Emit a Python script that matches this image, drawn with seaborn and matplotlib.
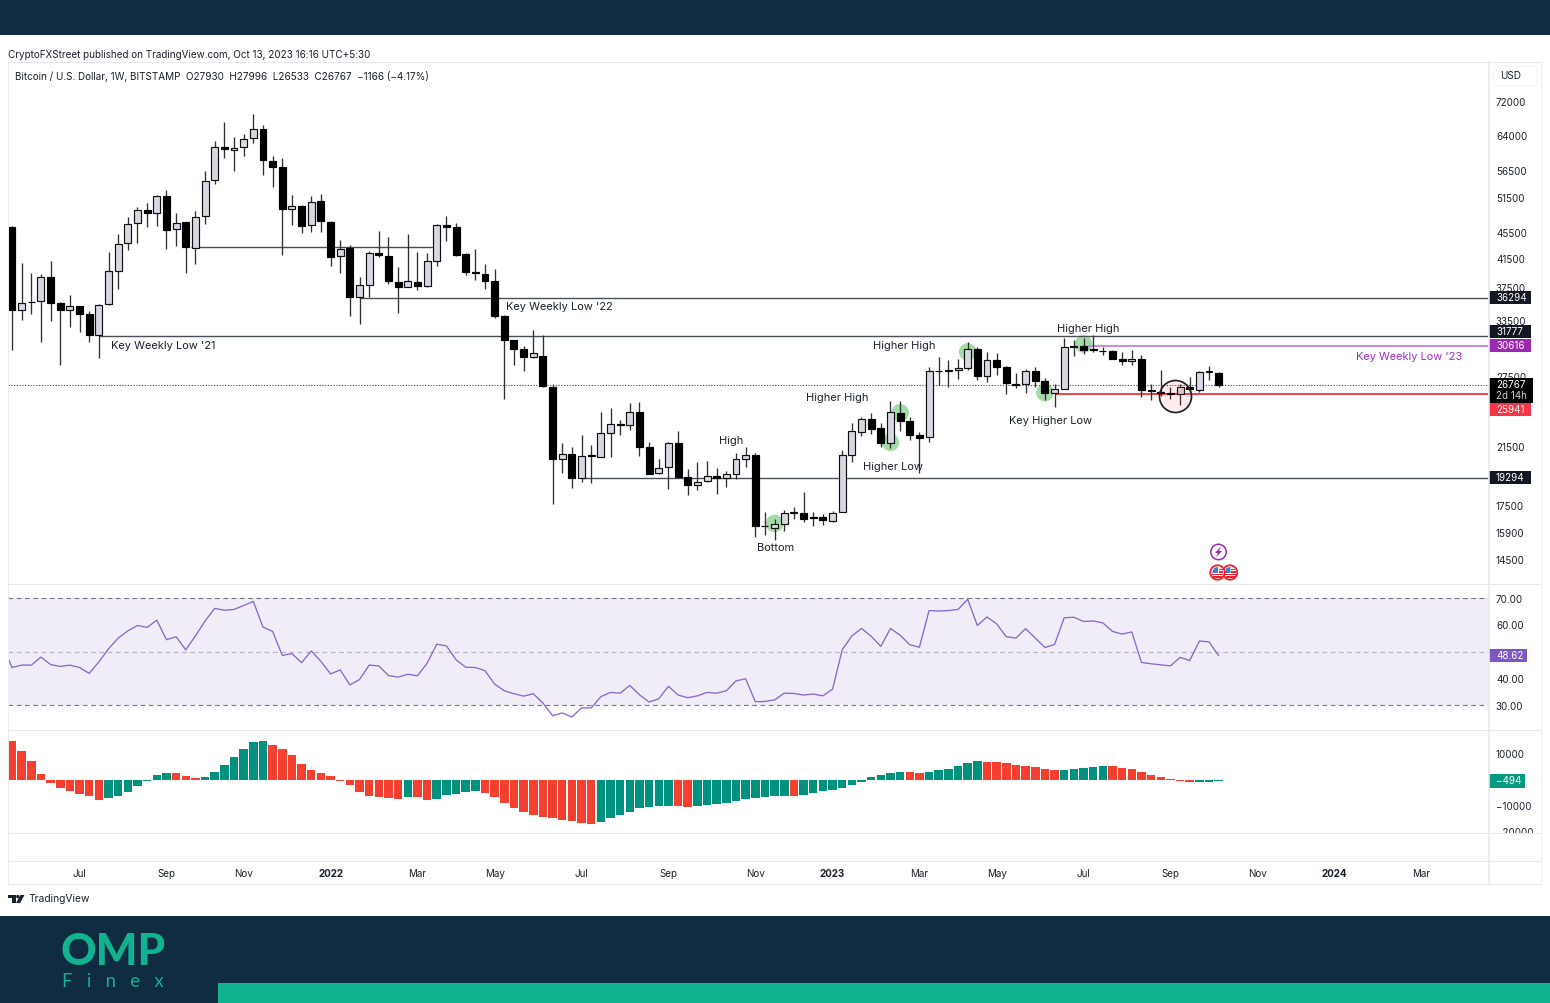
import numpy as np
import pandas as pd
import matplotlib
matplotlib.use('Agg')
import matplotlib.pyplot as plt
import seaborn as sns
from matplotlib.lines import Line2D
from matplotlib.patches import Rectangle, Circle, Polygon, FancyBboxPatch

# weekly BTCUSD candles
opens = [46544,34772,35800,35885,39074,35592,34772,35260,34290,31860,35510,39900,43909,47090,49285,48825,51815,46165,47310,43250,
         48315,54740,61510,60870,61440,63400,65430,58640,57290,49515,50035,46760,50860,47310,41950,43150,36350,37950,42400,42050,
         38400,37731,38400,37820,41320,46870,46435,42250,39720,39490,38530,34090,31307,30300,29500,29600,26555,20605,21000,19325,
         20900,20800,22625,23300,23245,24330,21520,19620,20060,21820,19392,18835,19100,19440,19300,19600,20650,20920,16350,16235,
         16465,17100,17110,16835,16835,16620,17150,20945,22705,23735,22975,21820,24270,23570,22440,22260,28120,28060,28215,28380,
         30340,27630,29225,28517,26840,26840,28090,27155,26000,26370,30590,30655,30300,30160,30125,29290,29060,29290,26278,26125,
         25973,25940,26530,26278,27970,27930]
highs = [46660,40939,39532,39440,41320,35760,36645,35305,34690,35470,42600,45310,48205,49805,50505,51935,52916,48770,47310,49225,
         56620,62890,67050,63776,64300,69000,66360,59600,59260,51935,50210,51815,52180,47535,44424,43600,38985,42700,45900,44895,
         40370,45380,42650,42500,46980,48315,47200,42400,43000,40795,40090,34215,31340,30655,32385,31850,26840,21850,21490,22415,
         21670,24300,24700,23654,25078,25225,21925,20610,21925,22790,19900,20390,20510,19965,19780,21045,21490,21095,17150,16755,
         17253,17420,18400,17150,17015,17190,21293,23380,23932,24270,23435,25315,25285,23932,22705,28517,29440,29190,29250,31050,
         30515,30000,29880,28620,27860,28250,28450,27380,26840,31490,31300,31490,31860,30515,30230,29985,30230,29700,26840,28186,
         26530,26840,27536,28055,28585,27996]
lows = [30170,33577,34290,31125,33460,28680,32801,32230,31125,29360,35385,37380,42897,44010,46435,46650,43000,43500,39625,40845,
        46980,53980,59120,56560,59670,62450,55700,53415,42100,46870,45580,45630,45740,40610,39625,34050,33070,36350,41820,38090,
        34450,37640,37291,37731,40610,44320,42000,39300,38620,37465,33770,25460,28680,28055,29360,26590,17620,19665,18660,19055,
        18944,20750,20750,22440,22840,20850,19550,19570,18595,19325,18185,18507,19055,18230,18680,19210,20084,15680,15800,15530,
        16050,16755,16560,16310,16370,16545,17130,20390,22365,22520,21490,21420,22785,22053,19620,21925,26745,26590,27310,28186,
        27216,27060,27700,25910,26430,25973,26590,25373,24787,26340,29600,29810,30050,29700,29280,28680,28680,25671,25373,25730,
        25430,24930,26125,26125,27216,26533]
closes = [34772,35675,35715,38985,35675,34730,35305,34290,31860,35430,39855,43860,46980,49285,48880,51815,46060,47200,43300,48205,
          54680,61510,61010,61370,63185,65430,58710,57355,49570,50095,46710,50740,47420,41905,43100,36350,37950,42400,42150,38445,
          37731,38445,37860,41275,46870,46435,42150,39760,39530,38530,34050,31307,30340,29500,29880,26620,20605,21000,19325,20875,
          20830,22600,23325,23210,24330,21543,19575,20015,21820,19392,18835,19055,19415,19325,19600,20605,20900,16330,16310,16425,
          17110,17150,16755,16775,16640,17110,20900,22735,23765,22950,21820,24300,23600,22470,22210,28055,28040,28215,28350,30300,
          27630,29190,28517,26965,26710,28090,27155,25973,26340,30515,30660,30230,30230,30090,29290,29090,29290,26278,26190,26035,
          25880,26530,26340,28020,28060,26767]

# RSI, the first value is the week before the first candle (off the left edge)
rsi = [52.7,44.2,45.1,45.1,48.1,45.3,44.6,45.1,44.2,42.0,46.3,51.2,55.2,57.9,59.9,59.2,61.9,54.6,55.7,50.8,56.0,
       61.6,66.3,65.6,65.9,67.4,68.9,59.3,57.7,48.7,49.4,46.0,50.4,46.5,41.8,43.3,37.7,39.7,45.1,44.8,41.2,
       40.6,41.7,41.1,45.8,52.9,52.3,47.1,44.3,44.2,43.0,38.0,35.5,34.4,33.5,34.4,30.9,26.2,27.2,25.7,29.1,
       29.1,33.3,34.9,34.6,37.5,34.0,31.3,32.5,37.2,33.9,32.9,33.6,34.9,34.6,35.5,39.2,40.0,31.4,31.5,32.1,
       34.6,34.5,33.9,34.3,33.6,36.1,50.8,56.0,58.8,55.9,52.1,58.8,56.3,52.7,51.8,65.5,65.3,65.5,65.9,69.7,
       59.9,63.1,60.5,55.7,55.2,58.7,55.2,51.7,52.8,62.8,63.0,61.4,61.6,60.9,57.7,56.7,57.5,46.1,45.6,45.2,
       44.8,48.0,46.8,54.1,53.8,48.62]

macd_hist = [14870,11150,7180,2180,-1280,-3080,-4100,-5380,-6150,-7690,-6800,-6150,-4620,-2440,-300,1800,2820,2560,1670,640,
             1150,2950,5770,8850,11920,14490,14870,13590,11800,9490,6150,3850,2560,1540,-300,-1920,-4490,-6280,-6670,-6920,
             -7310,-6670,-6670,-7690,-7440,-5900,-5260,-4740,-4360,-5000,-6410,-8970,-10770,-12440,-13590,-14230,-14620,-15260,-15770,-16540,
             -17050,-16150,-14740,-13330,-12180,-10770,-10260,-10130,-10130,-10130,-10510,-10130,-9490,-9100,-8970,-8200,-7180,-6920,-6540,-6280,
             -6150,-6150,-5770,-5130,-4360,-3850,-3080,-2050,-770,1030,2050,2690,3080,3080,2560,3080,3720,4360,5260,6670,
             7310,7050,7050,6670,5900,5380,4870,4360,3850,3850,4360,4490,4870,5510,5260,4740,4100,3080,1920,1150,
             380,-510,-900,-900,-640,-494]
macd_side = list('rrrrrrrrrr' 'ggggggg' 'rrr' 'ggggggg' 'rrrrrrrrrrrrrr' 'g' 'rr' 'ggggg' 'rrrrrrrrrrrr' 'gggggggg' 'rr'
                 'gggggggggg' 'r' 'ggggggggggg' 'rr' 'gggggg' 'rrrrrrrr' 'ggggg' 'rrrrrrrrr' 'ggg')

price_ticks = [72000,64000,56500,51500,45500,41500,37500,33500,27500,21500,17500,15900,14500]
rsi_ticks = [70,60,40,30]
macd_ticks = [10000,-10000,-20000]
macd_tick_labels = ['10000','\u221210000','\u221220000']
time_ticks = [7,16,24,33,42,50,59,68,77,85,94,102,111,120,129,137,146]
time_labels = ['Jul','Sep','Nov','2022','Mar','May','Jul','Sep','Nov','2023','Mar','May','Jul','Sep','Nov','2024','Mar']

# key levels: price, first week, last week, colour, width
levels = [(43300,18.5,43.6,'#4a4e57',1.0),(36294,36,152.9,'#4a4e57',1.0),(31777,9,152.9,'#4a4e57',1.0),(19294,59,152.9,'#4a4e57',1.0),
          (30616,111.5,152.9,'#b26fd0',1.1),(25941,108,152.9,'#f0202f',1.2)]
swing_weeks = [79,91,92,99,107,111]
swing_prices = [16465,21870,24270,30020,26030,30870]

W, H = 1550, 1003
NAVY = '#0f2c41'
TEAL = '#10b28f'
TXT = '#1c202b'
GRID = '#eceef2'
sns.set_theme(style='white')
plt.rcParams['font.family'] = ['Inter', 'DejaVu Sans']
plt.rcParams['text.color'] = TXT

# the small extra keeps matplotlib from rounding the height down to 1002
fig = plt.figure(figsize=(W / 100, (H + 0.01) / 100), dpi=100, facecolor='white')

def fx(x):
    return x / W

def fy(y):
    return 1 - y / H

def pane(x0, y0, x1, y1):
    a = fig.add_axes([fx(x0), fy(y1), (x1 - x0) / W, (y1 - y0) / H])
    a.set_facecolor('none')
    for s in a.spines.values():
        s.set_visible(False)
    a.set_xlim(-0.414, 152.9)
    a.set_xticks([])
    return a

def frect(x0, y0, x1, y1, color, **kw):
    fig.patches.append(Rectangle((fx(x0), fy(y1)), (x1 - x0) / W, (y1 - y0) / H, transform=fig.transFigure,
                                 facecolor=color, edgecolor='none', **kw))

def fline(x0, y0, x1, y1, color=GRID, lw=1.0):
    fig.add_artist(Line2D([fx(x0), fx(x1)], [fy(y0), fy(y1)], color=color, lw=lw * 0.72))

def ftext(x, y, s, size=7.2, color=TXT, ha='left', **kw):
    fig.text(fx(x), fy(y), s, fontsize=size, color=color, ha=ha, va='center', **kw)

def tag(y0, y1, s, color, x1=1531):
    frect(1489, y0, x1, y1, color)
    ftext(1496, (y0 + y1) / 2, s, size=7.1, color='white')

# page bands
frect(0, 0, W, 35, NAVY)
frect(0, 916, W, H, NAVY)
frect(218, 983, W, H, TEAL)

ftext(8, 54.5, 'CryptoFXStreet published on TradingView.com, Oct 13, 2023 16:16 UTC+5:30', size=7.13)
ftext(15, 76.5, 'Bitcoin / U.S. Dollar, 1W, BITSTAMP  O27930  H27996  L26533  C26767  \u22121166 (\u22124.17%)', size=7.13)

# pane frame
for y in (62, 584, 730, 833, 861, 884):
    fline(8, y, 1541, y, color='#e8e9ee')
fline(8, 62, 8, 884)
fline(1541, 62, 1541, 884)
fline(1489, 62, 1489, 884, color='#e8e9ee', lw=1.6)

# price pane
ax = pane(8, 65, 1488, 583)
ax.set_yscale('log')
ax.set_ylim(13370, 81950)
weeks = np.arange(len(opens))
o, h, l, c = map(np.array, (opens, highs, lows, closes))
sns.scatterplot(x=swing_weeks, y=swing_prices, s=160, color='#a6dba9', edgecolor='none', ax=ax, zorder=1, legend=False)
ax.scatter([120.5], [25730], s=530, facecolor='#f2364518', edgecolor='#222222', linewidth=1.25, zorder=4)
ax.vlines(weeks, l, h, color='#303030', lw=0.95, zorder=2)
up = c >= o
ax.bar(weeks[up], (c - o)[up], bottom=o[up], width=0.72, color='#d6d9e0', edgecolor='#111111', linewidth=0.85, zorder=3)
ax.bar(weeks[~up], (o - c)[~up], bottom=c[~up], width=0.72, color='black', edgecolor='black', linewidth=0.85, zorder=3)
for price, start, end, col, width in levels:
    ax.hlines(price, start, end, color=col, lw=width, zorder=1.5)
ax.axhline(26767, color='#444444', lw=0.8, ls=(0, (1, 1.5)), zorder=1)
ax.yaxis.tick_right()
ax.yaxis.set_major_locator(matplotlib.ticker.FixedLocator(price_ticks))
ax.yaxis.set_major_formatter(matplotlib.ticker.FixedFormatter([str(v) for v in price_ticks]))
ax.yaxis.set_minor_locator(matplotlib.ticker.NullLocator())
ax.tick_params(axis='y', length=0, pad=5.7, labelsize=7.1, labelcolor=TXT)

# annotations on the chart
for x, y, s in [(111, 346, "Key Weekly Low '21"), (506, 307, "Key Weekly Low '22"), (1057, 329, 'Higher High'),
                (873, 346, 'Higher High'), (806, 398, 'Higher High'), (1009, 420.5, 'Key Higher Low'),
                (719, 441, 'High'), (863, 466.5, 'Higher Low'), (757, 548, 'Bottom')]:
    ftext(x, y, s, size=7.95, zorder=6)
ftext(1356, 356.5, "Key Weekly Low '23", size=7.9, color='#a32cc4', zorder=6)

# price scale tags
ftext(1500, 76, 'USD', size=7.2)
tag(291, 304, '36294', '#131722')
tag(325, 338.5, '31777', '#131722')
tag(339, 352.5, '30616', '#9c27b0')
frect(1489, 378, 1533, 403, 'black')
ftext(1496, 384.5, '26767', size=7.1, color='white')
ftext(1496, 396, '2d 14h', size=7.1, color='#d0d0d0')
tag(403.5, 416.5, '25941', '#f23645')
tag(471.5, 484.5, '19294', '#131722')

# pixel overlay for icons, logo and the clipped bottom tick
ax_icons = fig.add_axes([0, 0, 1, 1], facecolor='none')
ax_icons.set_zorder(10)
ax_icons.set_xlim(0, W)
ax_icons.set_ylim(H, 0)
ax_icons.axis('off')
ax_icons.add_patch(FancyBboxPatch((1494, 67), 42, 18, boxstyle='round,pad=1,rounding_size=3', facecolor='none', edgecolor='#f0f1f4', lw=0.7))
ax_icons.add_patch(Circle((1218.5, 552), 7.7, facecolor='white', edgecolor='#9c27b0', lw=1.1))
ax_icons.add_patch(Polygon([(1221, 546.5), (1215, 553), (1218, 553), (1216, 557.5), (1222, 551), (1219, 551)],
                           facecolor='#9c27b0', edgecolor='none'))
for cx in (1230, 1217.5):
    ax_icons.add_patch(Circle((cx, 572.5), 7.2, facecolor='white', edgecolor='#f0202f', lw=1.3, zorder=3))
    for sx, sy, sw in ((cx + 1, 569, 4), (cx + 1, 571.5, 4.8), (cx - 5.5, 574, 11), (cx - 4.5, 576.5, 9)):
        ax_icons.add_patch(Rectangle((sx, sy), sw, 1.4, facecolor='#f0202f', edgecolor='none', zorder=3))
    ax_icons.add_patch(Polygon([(cx - 5.5, 573), (cx - 3.5, 568), (cx + 0.5, 566.8), (cx + 0.5, 573)], facecolor='#4a7cc9', edgecolor='none', zorder=3))
# TradingView mark
ax_icons.add_patch(Polygon([(8, 895), (15.5, 895), (15.5, 903), (12, 903), (12, 898), (8, 898)], facecolor=TXT, edgecolor='none'))
ax_icons.add_patch(Circle((17.8, 896.6), 1.7, facecolor=TXT, edgecolor='none'))
ax_icons.add_patch(Polygon([(20.5, 895), (24.5, 895), (20, 903), (16, 903)], facecolor=TXT, edgecolor='none'))
ax_icons.add_patch(Rectangle((1490, 833.6), 50, 9, facecolor='white', edgecolor='none'))

# RSI pane
ax_rsi = pane(8, 584, 1488, 730)
ax_rsi.set_ylim(20.84, 75.42)
ax_rsi.axhspan(30, 70, color='#7e57c2', alpha=0.1, lw=0, zorder=0)
for lev, shade in ((70, '#787b86'), (50, '#b5b3c0'), (30, '#787b86')):
    ax_rsi.axhline(lev, color=shade, lw=0.85, ls=(0, (4, 3)), zorder=1)
rsi_df = pd.DataFrame({'week': np.arange(-1, len(rsi) - 1), 'rsi': rsi})
sns.lineplot(data=rsi_df, x='week', y='rsi', color='#8a67cc', lw=0.95, ax=ax_rsi, zorder=2)
ax_rsi.set_xlabel('')
ax_rsi.set_ylabel('')
ax_rsi.set_xticks([])
ax_rsi.yaxis.tick_right()
ax_rsi.set_yticks(rsi_ticks, [f'{v:.2f}' for v in rsi_ticks])
ax_rsi.tick_params(axis='y', length=0, pad=5.7, labelsize=7.1, labelcolor=TXT)
tag(649.5, 662.5, '48.62', '#7e57c2', x1=1527)

# MACD histogram pane
ax_macd = pane(8, 731, 1488, 833)
macd_df = pd.DataFrame({'week': weeks, 'hist': macd_hist, 'side': macd_side})
sns.barplot(data=macd_df, x='week', y='hist', hue='side', palette={'r': '#f6402f', 'g': '#00917f'}, hue_order=['r', 'g'],
            native_scale=True, dodge=False, width=0.88, saturation=1, linewidth=0, legend=False, ax=ax_macd, zorder=2)
ax_macd.set_xlim(-0.414, 152.9)
ax_macd.set_ylim(-20385, 18846)
ax_macd.set_xlabel('')
ax_macd.set_ylabel('')
ax_macd.set_xticks([])
ax_macd.yaxis.tick_right()
ax_macd.set_yticks(macd_ticks, macd_tick_labels)
ax_macd.tick_params(axis='y', length=0, pad=5.7, labelsize=7.1, labelcolor=TXT)
tag(774.5, 788, '\u2212494', '#089981', x1=1525)

# time axis
ax_time = pane(8, 862, 1488, 884)
ax_time.set_ylim(0, 1)
ax_time.set_yticks([])
ax_time.set_xticks(time_ticks, time_labels)
ax_time.tick_params(axis='x', length=0, pad=-10.7, labelsize=7.1, labelcolor=TXT)
for lab in ax_time.get_xticklabels():
    if lab.get_text().startswith('20'):
        lab.set_fontweight('bold')

# footer and logo
ftext(28, 899, 'TradingView', size=7.4)
ftext(61, 952, 'OMP', size=31.6, color=TEAL, family='Lato', fontweight='black')
ftext(62, 981, 'F   i   n   e   x', size=13.4, color=TEAL, family='Lato')

fig.savefig('out.png', dpi=100)
